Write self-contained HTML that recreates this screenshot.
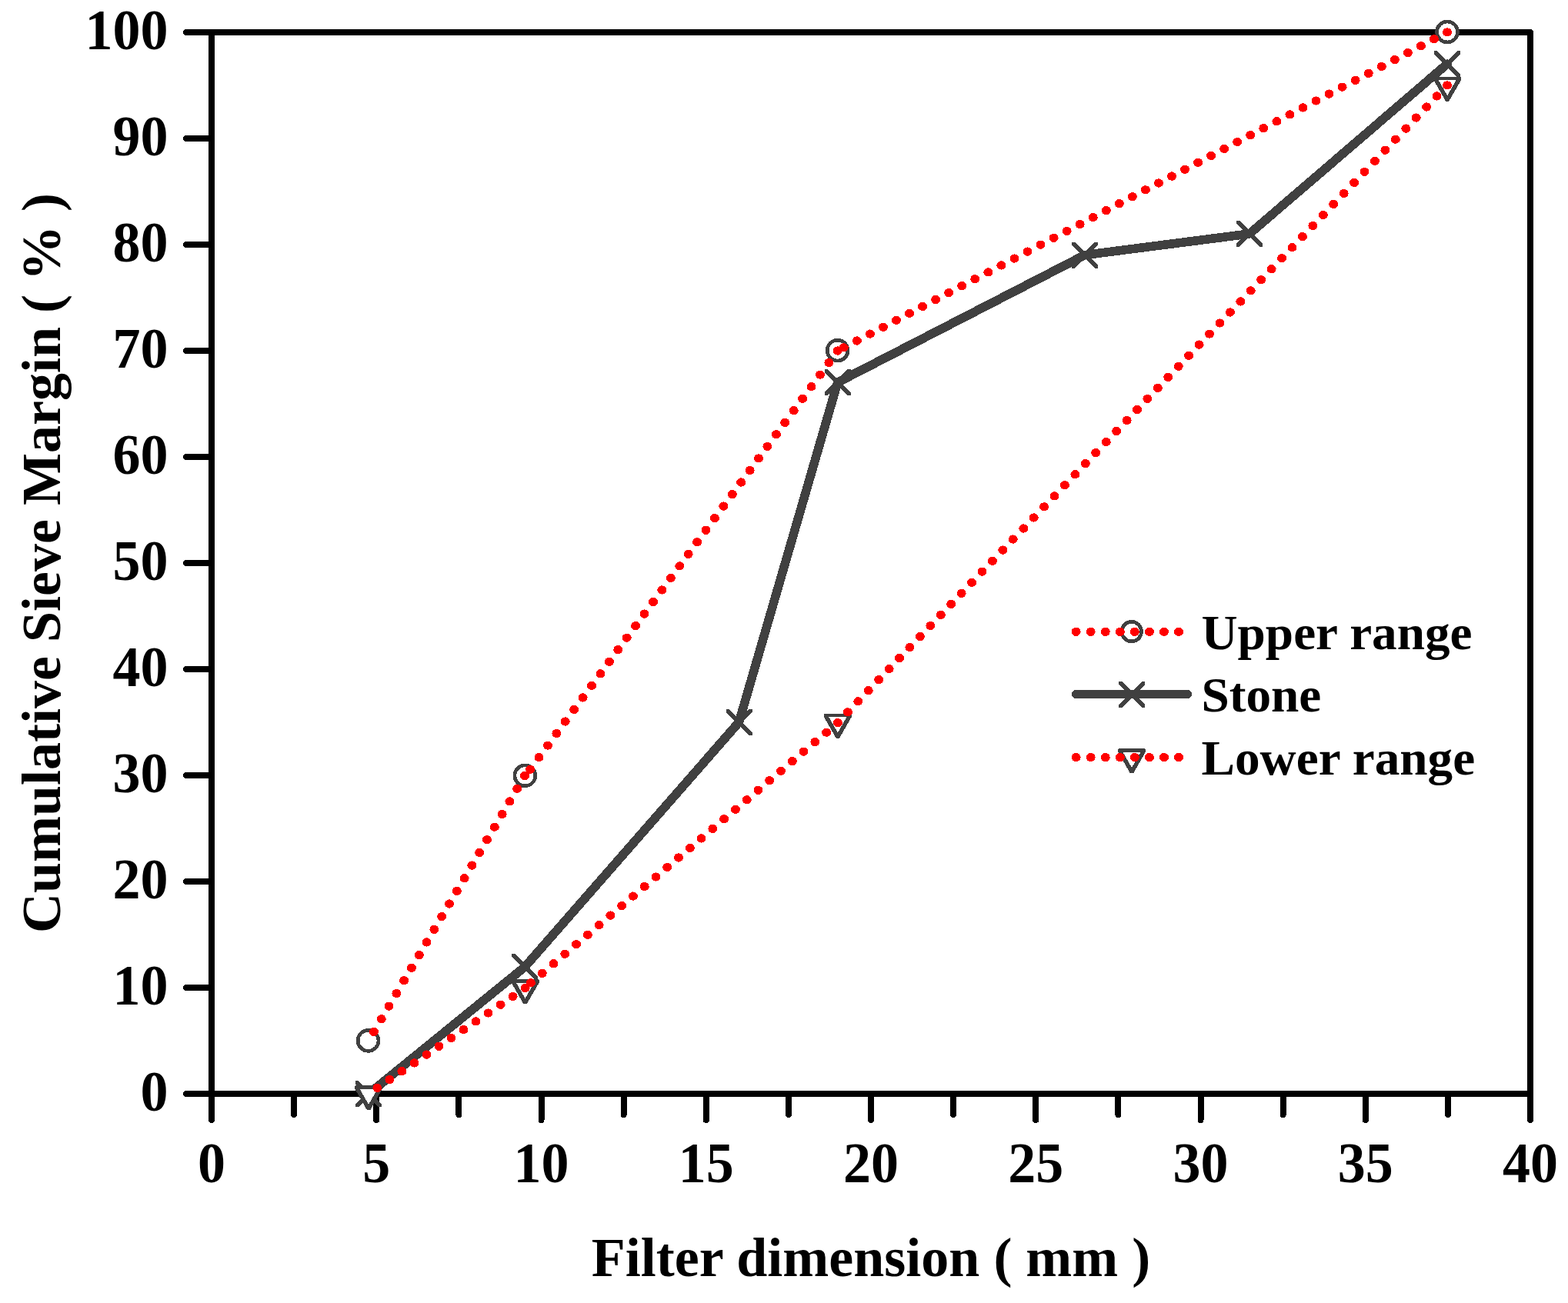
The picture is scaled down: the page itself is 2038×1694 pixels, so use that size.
<!DOCTYPE html>
<html lang="en"><head><meta charset="utf-8"><title>Cumulative Sieve Margin vs Filter dimension</title>
<style>html,body{margin:0;padding:0;background:#fff;}body{width:2038px;height:1694px;overflow:hidden;}svg{display:block;}text{font-family:'Liberation Serif', serif;font-weight:bold;fill:#000;}</style>
</head><body>
<svg width="2038" height="1694" viewBox="0 0 2038 1694" role="img" aria-label="Cumulative Sieve Margin versus Filter dimension">
<rect width="2038" height="1694" fill="#fff"/>
<g id="axes" fill="none" stroke="#000" stroke-width="8" shape-rendering="crispEdges">
<rect x="275" y="42" width="1714" height="1380" stroke-linejoin="round"/>
</g>
<g id="ticks" fill="none" stroke="#000" stroke-width="8" stroke-linecap="round" shape-rendering="crispEdges">
<line x1="242" y1="1422" x2="275" y2="1422"/>
<line x1="242" y1="1284" x2="275" y2="1284"/>
<line x1="242" y1="1146" x2="275" y2="1146"/>
<line x1="242" y1="1008" x2="275" y2="1008"/>
<line x1="242" y1="870" x2="275" y2="870"/>
<line x1="242" y1="732" x2="275" y2="732"/>
<line x1="242" y1="594" x2="275" y2="594"/>
<line x1="242" y1="456" x2="275" y2="456"/>
<line x1="242" y1="318" x2="275" y2="318"/>
<line x1="242" y1="180" x2="275" y2="180"/>
<line x1="242" y1="42" x2="275" y2="42"/>
<line x1="275" y1="1422" x2="275" y2="1456"/>
<line x1="382.12" y1="1422" x2="382.12" y2="1449"/>
<line x1="489.25" y1="1422" x2="489.25" y2="1456"/>
<line x1="596.38" y1="1422" x2="596.38" y2="1449"/>
<line x1="703.5" y1="1422" x2="703.5" y2="1456"/>
<line x1="810.62" y1="1422" x2="810.62" y2="1449"/>
<line x1="917.75" y1="1422" x2="917.75" y2="1456"/>
<line x1="1024.88" y1="1422" x2="1024.88" y2="1449"/>
<line x1="1132" y1="1422" x2="1132" y2="1456"/>
<line x1="1239.12" y1="1422" x2="1239.12" y2="1449"/>
<line x1="1346.25" y1="1422" x2="1346.25" y2="1456"/>
<line x1="1453.38" y1="1422" x2="1453.38" y2="1449"/>
<line x1="1560.5" y1="1422" x2="1560.5" y2="1456"/>
<line x1="1667.62" y1="1422" x2="1667.62" y2="1449"/>
<line x1="1774.75" y1="1422" x2="1774.75" y2="1456"/>
<line x1="1881.88" y1="1422" x2="1881.88" y2="1449"/>
<line x1="1989" y1="1422" x2="1989" y2="1456"/>
</g>
<g id="ylabels">
<text font-size="72" text-anchor="end" transform="translate(218.6 1444.2) scale(1 1.035)">0</text>
<text font-size="72" text-anchor="end" transform="translate(218.6 1306.2) scale(1 1.035)">10</text>
<text font-size="72" text-anchor="end" transform="translate(218.6 1168.2) scale(1 1.035)">20</text>
<text font-size="72" text-anchor="end" transform="translate(218.6 1030.2) scale(1 1.035)">30</text>
<text font-size="72" text-anchor="end" transform="translate(218.6 892.2) scale(1 1.035)">40</text>
<text font-size="72" text-anchor="end" transform="translate(218.6 754.2) scale(1 1.035)">50</text>
<text font-size="72" text-anchor="end" transform="translate(218.6 616.2) scale(1 1.035)">60</text>
<text font-size="72" text-anchor="end" transform="translate(218.6 478.2) scale(1 1.035)">70</text>
<text font-size="72" text-anchor="end" transform="translate(218.6 340.2) scale(1 1.035)">80</text>
<text font-size="72" text-anchor="end" transform="translate(218.6 202.2) scale(1 1.035)">90</text>
<text font-size="72" text-anchor="end" transform="translate(218.6 64.2) scale(1 1.035)">100</text>
</g>
<g id="xlabels">
<text font-size="72" text-anchor="middle" transform="translate(275 1536.5) scale(1 1.035)">0</text>
<text font-size="72" text-anchor="middle" transform="translate(489.25 1536.5) scale(1 1.035)">5</text>
<text font-size="72" text-anchor="middle" transform="translate(703.5 1536.5) scale(1 1.035)">10</text>
<text font-size="72" text-anchor="middle" transform="translate(917.75 1536.5) scale(1 1.035)">15</text>
<text font-size="72" text-anchor="middle" transform="translate(1132 1536.5) scale(1 1.035)">20</text>
<text font-size="72" text-anchor="middle" transform="translate(1346.25 1536.5) scale(1 1.035)">25</text>
<text font-size="72" text-anchor="middle" transform="translate(1560.5 1536.5) scale(1 1.035)">30</text>
<text font-size="72" text-anchor="middle" transform="translate(1774.75 1536.5) scale(1 1.035)">35</text>
<text font-size="72" text-anchor="middle" transform="translate(1989 1536.5) scale(1 1.035)">40</text>
</g>
<text id="xtitle" font-size="72" text-anchor="middle" transform="translate(1132 1658.6)">Filter dimension ( mm )</text>
<text id="ytitle" font-size="72" text-anchor="middle" transform="translate(78 732) rotate(-90)">Cumulative Sieve Margin ( % )</text>
<g id="upper">
<g shape-rendering="crispEdges"><circle cx="1881.03" cy="41.5" r="13.4" fill="#fff" stroke="#404040" stroke-width="4.7"/><circle cx="1088.6" cy="455.6" r="13.4" fill="#fff" stroke="#404040" stroke-width="4.7"/><circle cx="682.4" cy="1008.3" r="13.4" fill="#fff" stroke="#404040" stroke-width="4.7"/><circle cx="478.55" cy="1352.95" r="13.4" fill="#fff" stroke="#404040" stroke-width="4.7"/></g>
<g fill="#ff0000" shape-rendering="crispEdges">
<ellipse cx="1881" cy="41.9" rx="6" ry="5.65"/><ellipse cx="1863.95" cy="50.81" rx="6" ry="5.65"/><ellipse cx="1846.9" cy="59.73" rx="6" ry="5.65"/><ellipse cx="1829.86" cy="68.64" rx="6" ry="5.65"/><ellipse cx="1812.81" cy="77.55" rx="6" ry="5.65"/><ellipse cx="1795.76" cy="86.47" rx="6" ry="5.65"/><ellipse cx="1778.71" cy="95.38" rx="6" ry="5.65"/><ellipse cx="1761.67" cy="104.29" rx="6" ry="5.65"/><ellipse cx="1744.62" cy="113.2" rx="6" ry="5.65"/><ellipse cx="1727.57" cy="122.12" rx="6" ry="5.65"/><ellipse cx="1710.52" cy="131.03" rx="6" ry="5.65"/><ellipse cx="1693.47" cy="139.94" rx="6" ry="5.65"/><ellipse cx="1676.43" cy="148.86" rx="6" ry="5.65"/><ellipse cx="1659.38" cy="157.77" rx="6" ry="5.65"/><ellipse cx="1642.33" cy="166.68" rx="6" ry="5.65"/><ellipse cx="1625.28" cy="175.6" rx="6" ry="5.65"/><ellipse cx="1608.23" cy="184.51" rx="6" ry="5.65"/><ellipse cx="1591.19" cy="193.42" rx="6" ry="5.65"/><ellipse cx="1574.14" cy="202.33" rx="6" ry="5.65"/><ellipse cx="1557.09" cy="211.25" rx="6" ry="5.65"/><ellipse cx="1540.04" cy="220.16" rx="6" ry="5.65"/><ellipse cx="1523" cy="229.07" rx="6" ry="5.65"/><ellipse cx="1505.95" cy="237.99" rx="6" ry="5.65"/><ellipse cx="1488.9" cy="246.9" rx="6" ry="5.65"/><ellipse cx="1471.85" cy="255.81" rx="6" ry="5.65"/><ellipse cx="1454.8" cy="264.73" rx="6" ry="5.65"/><ellipse cx="1437.76" cy="273.64" rx="6" ry="5.65"/><ellipse cx="1420.71" cy="282.55" rx="6" ry="5.65"/><ellipse cx="1403.66" cy="291.47" rx="6" ry="5.65"/><ellipse cx="1386.61" cy="300.38" rx="6" ry="5.65"/><ellipse cx="1369.57" cy="309.29" rx="6" ry="5.65"/><ellipse cx="1352.52" cy="318.2" rx="6" ry="5.65"/><ellipse cx="1335.47" cy="327.12" rx="6" ry="5.65"/><ellipse cx="1318.42" cy="336.03" rx="6" ry="5.65"/><ellipse cx="1301.37" cy="344.94" rx="6" ry="5.65"/><ellipse cx="1284.33" cy="353.86" rx="6" ry="5.65"/><ellipse cx="1267.28" cy="362.77" rx="6" ry="5.65"/><ellipse cx="1250.23" cy="371.68" rx="6" ry="5.65"/><ellipse cx="1233.18" cy="380.6" rx="6" ry="5.65"/><ellipse cx="1216.13" cy="389.51" rx="6" ry="5.65"/><ellipse cx="1199.09" cy="398.42" rx="6" ry="5.65"/><ellipse cx="1182.04" cy="407.33" rx="6" ry="5.65"/><ellipse cx="1164.99" cy="416.25" rx="6" ry="5.65"/><ellipse cx="1147.94" cy="425.16" rx="6" ry="5.65"/><ellipse cx="1130.9" cy="434.07" rx="6" ry="5.65"/><ellipse cx="1113.85" cy="442.99" rx="6" ry="5.65"/><ellipse cx="1096.8" cy="451.9" rx="6" ry="5.65"/>
<ellipse cx="1088.8" cy="456" rx="6" ry="5.65"/><ellipse cx="1077.38" cy="471.55" rx="6" ry="5.65"/><ellipse cx="1065.96" cy="487.1" rx="6" ry="5.65"/><ellipse cx="1054.54" cy="502.65" rx="6" ry="5.65"/><ellipse cx="1043.12" cy="518.19" rx="6" ry="5.65"/><ellipse cx="1031.7" cy="533.74" rx="6" ry="5.65"/><ellipse cx="1020.28" cy="549.29" rx="6" ry="5.65"/><ellipse cx="1008.86" cy="564.84" rx="6" ry="5.65"/><ellipse cx="997.44" cy="580.39" rx="6" ry="5.65"/><ellipse cx="986.02" cy="595.94" rx="6" ry="5.65"/><ellipse cx="974.6" cy="611.49" rx="6" ry="5.65"/><ellipse cx="963.18" cy="627.03" rx="6" ry="5.65"/><ellipse cx="951.76" cy="642.58" rx="6" ry="5.65"/><ellipse cx="940.34" cy="658.13" rx="6" ry="5.65"/><ellipse cx="928.92" cy="673.68" rx="6" ry="5.65"/><ellipse cx="917.5" cy="689.23" rx="6" ry="5.65"/><ellipse cx="906.08" cy="704.78" rx="6" ry="5.65"/><ellipse cx="894.66" cy="720.33" rx="6" ry="5.65"/><ellipse cx="883.24" cy="735.87" rx="6" ry="5.65"/><ellipse cx="871.82" cy="751.42" rx="6" ry="5.65"/><ellipse cx="860.4" cy="766.97" rx="6" ry="5.65"/><ellipse cx="848.98" cy="782.52" rx="6" ry="5.65"/><ellipse cx="837.56" cy="798.07" rx="6" ry="5.65"/><ellipse cx="826.14" cy="813.62" rx="6" ry="5.65"/><ellipse cx="814.72" cy="829.17" rx="6" ry="5.65"/><ellipse cx="803.3" cy="844.71" rx="6" ry="5.65"/><ellipse cx="791.88" cy="860.26" rx="6" ry="5.65"/><ellipse cx="780.46" cy="875.81" rx="6" ry="5.65"/><ellipse cx="769.04" cy="891.36" rx="6" ry="5.65"/><ellipse cx="757.62" cy="906.91" rx="6" ry="5.65"/><ellipse cx="746.2" cy="922.46" rx="6" ry="5.65"/><ellipse cx="734.78" cy="938.01" rx="6" ry="5.65"/><ellipse cx="723.36" cy="953.55" rx="6" ry="5.65"/><ellipse cx="711.94" cy="969.1" rx="6" ry="5.65"/><ellipse cx="700.52" cy="984.65" rx="6" ry="5.65"/><ellipse cx="689.1" cy="1000.2" rx="6" ry="5.65"/>
<ellipse cx="682" cy="1008.6" rx="6" ry="5.65"/><ellipse cx="672.2" cy="1025.24" rx="6" ry="5.65"/><ellipse cx="662.39" cy="1041.88" rx="6" ry="5.65"/><ellipse cx="652.59" cy="1058.52" rx="6" ry="5.65"/><ellipse cx="642.79" cy="1075.17" rx="6" ry="5.65"/><ellipse cx="632.98" cy="1091.81" rx="6" ry="5.65"/><ellipse cx="623.18" cy="1108.45" rx="6" ry="5.65"/><ellipse cx="613.38" cy="1125.09" rx="6" ry="5.65"/><ellipse cx="603.57" cy="1141.73" rx="6" ry="5.65"/><ellipse cx="593.77" cy="1158.37" rx="6" ry="5.65"/><ellipse cx="583.97" cy="1175.02" rx="6" ry="5.65"/><ellipse cx="574.16" cy="1191.66" rx="6" ry="5.65"/><ellipse cx="564.36" cy="1208.3" rx="6" ry="5.65"/><ellipse cx="554.55" cy="1224.94" rx="6" ry="5.65"/><ellipse cx="544.75" cy="1241.58" rx="6" ry="5.65"/><ellipse cx="534.95" cy="1258.22" rx="6" ry="5.65"/><ellipse cx="525.14" cy="1274.86" rx="6" ry="5.65"/><ellipse cx="515.34" cy="1291.51" rx="6" ry="5.65"/><ellipse cx="505.54" cy="1308.15" rx="6" ry="5.65"/><ellipse cx="495.73" cy="1324.79" rx="6" ry="5.65"/><ellipse cx="485.93" cy="1341.43" rx="6" ry="5.65"/>
</g></g>
<g id="stone" shape-rendering="crispEdges">
<polyline fill="none" stroke="#404040" stroke-width="11.6" stroke-linejoin="round" stroke-linecap="round" points="1881,83.11 1624,303.96 1410,331.56 1088.7,497.2 960.5,938.89 682.4,1256.8 478.9,1422.3"/>
<polygon points="1864,66.11 1868,66.11 1898,96.11 1898,100.11 1894,100.11 1864,70.11" fill="#404040"/><polygon points="1898,66.11 1898,70.11 1868,100.11 1864,100.11 1864,96.11 1894,66.11" fill="#404040"/><polygon points="1607,286.96 1611,286.96 1641,316.96 1641,320.96 1637,320.96 1607,290.96" fill="#404040"/><polygon points="1641,286.96 1641,290.96 1611,320.96 1607,320.96 1607,316.96 1637,286.96" fill="#404040"/><polygon points="1393,314.56 1397,314.56 1427,344.56 1427,348.56 1423,348.56 1393,318.56" fill="#404040"/><polygon points="1427,314.56 1427,318.56 1397,348.56 1393,348.56 1393,344.56 1423,314.56" fill="#404040"/><polygon points="1071.7,480.2 1075.7,480.2 1105.7,510.2 1105.7,514.2 1101.7,514.2 1071.7,484.2" fill="#404040"/><polygon points="1105.7,480.2 1105.7,484.2 1075.7,514.2 1071.7,514.2 1071.7,510.2 1101.7,480.2" fill="#404040"/><polygon points="943.5,921.89 947.5,921.89 977.5,951.89 977.5,955.89 973.5,955.89 943.5,925.89" fill="#404040"/><polygon points="977.5,921.89 977.5,925.89 947.5,955.89 943.5,955.89 943.5,951.89 973.5,921.89" fill="#404040"/><polygon points="665.4,1239.8 669.4,1239.8 699.4,1269.8 699.4,1273.8 695.4,1273.8 665.4,1243.8" fill="#404040"/><polygon points="699.4,1239.8 699.4,1243.8 669.4,1273.8 665.4,1273.8 665.4,1269.8 695.4,1239.8" fill="#404040"/><polygon points="461.9,1405.3 465.9,1405.3 495.9,1435.3 495.9,1439.3 491.9,1439.3 461.9,1409.3" fill="#404040"/><polygon points="495.9,1405.3 495.9,1409.3 465.9,1439.3 461.9,1439.3 461.9,1435.3 491.9,1405.3" fill="#404040"/>
</g>
<g id="lower">
<g shape-rendering="crispEdges"><polygon points="1869.73,104.23 1892.67,104.23 1881.2,124.28" fill="#fff"/><path d="M1864.2 99.53 L1898.2 99.53 L1899.2 100.53 L1899.2 103.83 L1883.35 131.53 L1879.05 131.53 L1863.2 103.83 L1863.2 100.53Z M1869.73 104.23 L1892.67 104.23 L1881.2 124.28Z" fill="#404040" fill-rule="evenodd"/><polygon points="1077.43,932.41 1100.37,932.41 1088.9,952.46" fill="#fff"/><path d="M1071.9 927.71 L1105.9 927.71 L1106.9 928.71 L1106.9 932.01 L1091.05 959.71 L1086.75 959.71 L1070.9 932.01 L1070.9 928.71Z M1077.43 932.41 L1100.37 932.41 L1088.9 952.46Z" fill="#404040" fill-rule="evenodd"/><polygon points="671.13,1278.02 694.07,1278.02 682.6,1298.06" fill="#fff"/><path d="M665.6 1273.32 L699.6 1273.32 L700.6 1274.32 L700.6 1277.62 L684.75 1305.32 L680.45 1305.32 L664.6 1277.62 L664.6 1274.32Z M671.13 1278.02 L694.07 1278.02 L682.6 1298.06Z" fill="#404040" fill-rule="evenodd"/><polygon points="467.63,1415.82 490.57,1415.82 479.1,1435.86" fill="#fff"/><path d="M462.1 1411.12 L496.1 1411.12 L497.1 1412.12 L497.1 1415.42 L481.25 1443.12 L476.95 1443.12 L461.1 1415.42 L461.1 1412.12Z M467.63 1415.82 L490.57 1415.82 L479.1 1435.86Z" fill="#404040" fill-rule="evenodd"/></g>
<g fill="#ff0000" shape-rendering="crispEdges">
<ellipse cx="1881" cy="110.9" rx="6" ry="5.65"/><ellipse cx="1867.57" cy="124.95" rx="6" ry="5.65"/><ellipse cx="1854.13" cy="139" rx="6" ry="5.65"/><ellipse cx="1840.7" cy="153.05" rx="6" ry="5.65"/><ellipse cx="1827.27" cy="167.1" rx="6" ry="5.65"/><ellipse cx="1813.83" cy="181.16" rx="6" ry="5.65"/><ellipse cx="1800.4" cy="195.21" rx="6" ry="5.65"/><ellipse cx="1786.97" cy="209.26" rx="6" ry="5.65"/><ellipse cx="1773.53" cy="223.31" rx="6" ry="5.65"/><ellipse cx="1760.1" cy="237.36" rx="6" ry="5.65"/><ellipse cx="1746.67" cy="251.41" rx="6" ry="5.65"/><ellipse cx="1733.23" cy="265.46" rx="6" ry="5.65"/><ellipse cx="1719.8" cy="279.51" rx="6" ry="5.65"/><ellipse cx="1706.37" cy="293.57" rx="6" ry="5.65"/><ellipse cx="1692.93" cy="307.62" rx="6" ry="5.65"/><ellipse cx="1679.5" cy="321.67" rx="6" ry="5.65"/><ellipse cx="1666.06" cy="335.72" rx="6" ry="5.65"/><ellipse cx="1652.63" cy="349.77" rx="6" ry="5.65"/><ellipse cx="1639.2" cy="363.82" rx="6" ry="5.65"/><ellipse cx="1625.76" cy="377.87" rx="6" ry="5.65"/><ellipse cx="1612.33" cy="391.92" rx="6" ry="5.65"/><ellipse cx="1598.9" cy="405.98" rx="6" ry="5.65"/><ellipse cx="1585.46" cy="420.03" rx="6" ry="5.65"/><ellipse cx="1572.03" cy="434.08" rx="6" ry="5.65"/><ellipse cx="1558.6" cy="448.13" rx="6" ry="5.65"/><ellipse cx="1545.16" cy="462.18" rx="6" ry="5.65"/><ellipse cx="1531.73" cy="476.23" rx="6" ry="5.65"/><ellipse cx="1518.3" cy="490.28" rx="6" ry="5.65"/><ellipse cx="1504.86" cy="504.33" rx="6" ry="5.65"/><ellipse cx="1491.43" cy="518.38" rx="6" ry="5.65"/><ellipse cx="1478" cy="532.44" rx="6" ry="5.65"/><ellipse cx="1464.56" cy="546.49" rx="6" ry="5.65"/><ellipse cx="1451.13" cy="560.54" rx="6" ry="5.65"/><ellipse cx="1437.7" cy="574.59" rx="6" ry="5.65"/><ellipse cx="1424.26" cy="588.64" rx="6" ry="5.65"/><ellipse cx="1410.83" cy="602.69" rx="6" ry="5.65"/><ellipse cx="1397.4" cy="616.74" rx="6" ry="5.65"/><ellipse cx="1383.96" cy="630.79" rx="6" ry="5.65"/><ellipse cx="1370.53" cy="644.85" rx="6" ry="5.65"/><ellipse cx="1357.1" cy="658.9" rx="6" ry="5.65"/><ellipse cx="1343.66" cy="672.95" rx="6" ry="5.65"/><ellipse cx="1330.23" cy="687" rx="6" ry="5.65"/><ellipse cx="1316.8" cy="701.05" rx="6" ry="5.65"/><ellipse cx="1303.36" cy="715.1" rx="6" ry="5.65"/><ellipse cx="1289.93" cy="729.15" rx="6" ry="5.65"/><ellipse cx="1276.49" cy="743.2" rx="6" ry="5.65"/><ellipse cx="1263.06" cy="757.26" rx="6" ry="5.65"/><ellipse cx="1249.63" cy="771.31" rx="6" ry="5.65"/><ellipse cx="1236.19" cy="785.36" rx="6" ry="5.65"/><ellipse cx="1222.76" cy="799.41" rx="6" ry="5.65"/><ellipse cx="1209.33" cy="813.46" rx="6" ry="5.65"/><ellipse cx="1195.89" cy="827.51" rx="6" ry="5.65"/><ellipse cx="1182.46" cy="841.56" rx="6" ry="5.65"/><ellipse cx="1169.03" cy="855.61" rx="6" ry="5.65"/><ellipse cx="1155.59" cy="869.67" rx="6" ry="5.65"/><ellipse cx="1142.16" cy="883.72" rx="6" ry="5.65"/><ellipse cx="1128.73" cy="897.77" rx="6" ry="5.65"/><ellipse cx="1115.29" cy="911.82" rx="6" ry="5.65"/><ellipse cx="1101.86" cy="925.87" rx="6" ry="5.65"/>
<ellipse cx="1088.9" cy="939.6" rx="6" ry="5.65"/><ellipse cx="1074.12" cy="952.13" rx="6" ry="5.65"/><ellipse cx="1059.35" cy="964.65" rx="6" ry="5.65"/><ellipse cx="1044.57" cy="977.18" rx="6" ry="5.65"/><ellipse cx="1029.8" cy="989.7" rx="6" ry="5.65"/><ellipse cx="1015.02" cy="1002.23" rx="6" ry="5.65"/><ellipse cx="1000.24" cy="1014.76" rx="6" ry="5.65"/><ellipse cx="985.47" cy="1027.28" rx="6" ry="5.65"/><ellipse cx="970.69" cy="1039.81" rx="6" ry="5.65"/><ellipse cx="955.92" cy="1052.33" rx="6" ry="5.65"/><ellipse cx="941.14" cy="1064.86" rx="6" ry="5.65"/><ellipse cx="926.36" cy="1077.39" rx="6" ry="5.65"/><ellipse cx="911.59" cy="1089.91" rx="6" ry="5.65"/><ellipse cx="896.81" cy="1102.44" rx="6" ry="5.65"/><ellipse cx="882.04" cy="1114.96" rx="6" ry="5.65"/><ellipse cx="867.26" cy="1127.49" rx="6" ry="5.65"/><ellipse cx="852.49" cy="1140.01" rx="6" ry="5.65"/><ellipse cx="837.71" cy="1152.54" rx="6" ry="5.65"/><ellipse cx="822.93" cy="1165.07" rx="6" ry="5.65"/><ellipse cx="808.16" cy="1177.59" rx="6" ry="5.65"/><ellipse cx="793.38" cy="1190.12" rx="6" ry="5.65"/><ellipse cx="778.61" cy="1202.64" rx="6" ry="5.65"/><ellipse cx="763.83" cy="1215.17" rx="6" ry="5.65"/><ellipse cx="749.05" cy="1227.7" rx="6" ry="5.65"/><ellipse cx="734.28" cy="1240.22" rx="6" ry="5.65"/><ellipse cx="719.5" cy="1252.75" rx="6" ry="5.65"/><ellipse cx="704.73" cy="1265.27" rx="6" ry="5.65"/><ellipse cx="689.95" cy="1277.8" rx="6" ry="5.65"/>
<ellipse cx="682.6" cy="1284.6" rx="6" ry="5.65"/><ellipse cx="666.58" cy="1295.41" rx="6" ry="5.65"/><ellipse cx="650.57" cy="1306.22" rx="6" ry="5.65"/><ellipse cx="634.55" cy="1317.02" rx="6" ry="5.65"/><ellipse cx="618.53" cy="1327.83" rx="6" ry="5.65"/><ellipse cx="602.52" cy="1338.64" rx="6" ry="5.65"/><ellipse cx="586.5" cy="1349.45" rx="6" ry="5.65"/><ellipse cx="570.48" cy="1360.26" rx="6" ry="5.65"/><ellipse cx="554.47" cy="1371.07" rx="6" ry="5.65"/><ellipse cx="538.45" cy="1381.88" rx="6" ry="5.65"/><ellipse cx="522.43" cy="1392.68" rx="6" ry="5.65"/><ellipse cx="506.42" cy="1403.49" rx="6" ry="5.65"/><ellipse cx="490.4" cy="1414.3" rx="6" ry="5.65"/>
</g></g>
<g id="legend">
<g shape-rendering="crispEdges"><circle cx="1470.8" cy="821.1" r="12.75" fill="#fff" stroke="#404040" stroke-width="4.7"/></g><g fill="#ff0000" shape-rendering="crispEdges"><ellipse cx="1398.6" cy="821.3" rx="6" ry="5.65"/><ellipse cx="1417.66" cy="821.3" rx="6" ry="5.65"/><ellipse cx="1436.72" cy="821.3" rx="6" ry="5.65"/><ellipse cx="1455.78" cy="821.3" rx="6" ry="5.65"/><ellipse cx="1474.84" cy="821.3" rx="6" ry="5.65"/><ellipse cx="1493.9" cy="821.3" rx="6" ry="5.65"/><ellipse cx="1512.96" cy="821.3" rx="6" ry="5.65"/><ellipse cx="1532.02" cy="821.3" rx="6" ry="5.65"/></g>
<g shape-rendering="crispEdges"><line x1="1398.7" y1="902.5" x2="1543.3" y2="902.5" stroke="#404040" stroke-width="11.6" stroke-linecap="round"/><polygon points="1454,886 1458,886 1488,916 1488,920 1484,920 1454,890" fill="#404040"/><polygon points="1488,886 1488,890 1458,920 1454,920 1454,916 1484,886" fill="#404040"/></g>
<g shape-rendering="crispEdges"><polygon points="1459.53,977.92 1482.47,977.92 1471,997.96" fill="#fff"/><path d="M1454 973.22 L1488 973.22 L1489 974.22 L1489 977.52 L1473.15 1005.22 L1468.85 1005.22 L1453 977.52 L1453 974.22Z M1459.53 977.92 L1482.47 977.92 L1471 997.96Z" fill="#404040" fill-rule="evenodd"/></g><g fill="#ff0000" shape-rendering="crispEdges"><ellipse cx="1398.6" cy="984.6" rx="6" ry="5.65"/><ellipse cx="1417.66" cy="984.6" rx="6" ry="5.65"/><ellipse cx="1436.72" cy="984.6" rx="6" ry="5.65"/><ellipse cx="1455.78" cy="984.6" rx="6" ry="5.65"/><ellipse cx="1474.84" cy="984.6" rx="6" ry="5.65"/><ellipse cx="1493.9" cy="984.6" rx="6" ry="5.65"/><ellipse cx="1512.96" cy="984.6" rx="6" ry="5.65"/><ellipse cx="1532.02" cy="984.6" rx="6" ry="5.65"/></g>
<text font-size="64" transform="translate(1561.5 843.6) scale(1.019 1)">Upper range</text>
<text font-size="64" transform="translate(1561.5 925.3) scale(1.019 1)">Stone</text>
<text font-size="64" transform="translate(1561.5 1007.2) scale(1.019 1)">Lower range</text>
</g>
</svg></body></html>
